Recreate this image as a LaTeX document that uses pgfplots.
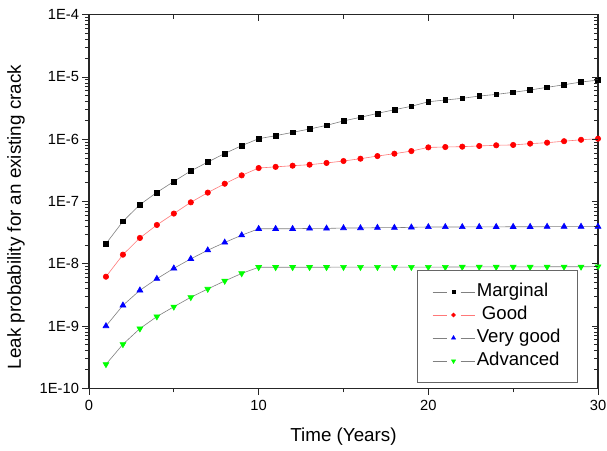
\documentclass[border=0pt]{standalone}
\usepackage{fontspec}
\setmainfont{Liberation Sans}
\usepackage{pgfplots}
\pgfplotsset{compat=1.18}
\definecolor{mgreen}{RGB}{0,255,0}
\definecolor{lgray}{RGB}{128,128,128}
\definecolor{lred}{RGB}{255,120,120}
\begin{document}
\begin{tikzpicture}
\useasboundingbox (-89pt,-61.7pt) rectangle (518pt,388.3pt);
\begin{semilogyaxis}[
  at={(0,0)}, anchor=south west,
  scale only axis, width=509pt, height=373.6pt,
  xmin=0, xmax=30, ymin=1e-10, ymax=1e-4,
  xtick={0,10,20,30}, minor x tick num=1,
  ytick={1e-10,1e-9,1e-8,1e-7,1e-6,1e-5,1e-4},
  major tick length=6.5pt, minor tick length=4pt,
  axis line style={line width=1.1pt, black!85},
  every tick/.style={line width=0.9pt, black!85},
  every minor tick/.style={line width=0.8pt, black!85},
  tick align=outside, xtick pos=bottom, ytick pos=left,
  xticklabels={0,10,20,30},
  yticklabels={1E-10,1E-9,1E-8,1E-7,1E-6,1E-5,1E-4},
  ticklabel style={font=\fontsize{14.7}{17}\selectfont},
  xticklabel style={yshift=-2pt},
  xlabel={Time (Years)},
  ylabel={Leak probability for an existing crack},
  every axis x label/.style={at={(axis description cs:0.5,0)}, yshift=-48.4pt, anchor=center, font=\fontsize{18.8}{22}\selectfont},
  every axis y label/.style={at={(axis description cs:0,0.4585)}, xshift=-73pt, rotate=90, anchor=center, font=\fontsize{18.8}{22}\selectfont},
  legend style={at={(0.9607,0.015)}, anchor=south east, draw=black!60, line width=0.8pt,
    inner xsep=15pt, inner ysep=9.8pt, font=\fontsize{18.6}{22}\selectfont,
    nodes={inner sep=2pt, text height=14pt, text depth=5pt}},
  legend cell align=left,
  legend image code/.code={
      \draw[#1, mark=none] (0pt,0pt) -- (14pt,0pt);
      \draw[#1, mark=none] (28pt,0pt) -- (42pt,0pt);
      \draw[#1, draw=none, every mark/.append style={scale=0.7}] plot coordinates {(21pt,0pt)};
  },
]
\addplot[color=lgray, line width=0.6pt, mark=square*, mark size=2.4pt, mark options={fill=black, draw=black, solid}] coordinates {
(1,2.1e-8) (2,4.8e-8) (3,8.9e-8) (4,1.4e-7) (5,2.1e-7) (6,3.1e-7) (7,4.3e-7) (8,5.9e-7) (9,7.9e-7) (10,1.02e-6)
(11,1.14e-6) (12,1.29e-6) (13,1.46e-6) (14,1.67e-6) (15,1.97e-6) (16,2.25e-6) (17,2.6e-6) (18,2.98e-6) (19,3.38e-6) (20,4.0e-6)
(21,4.27e-6) (22,4.54e-6) (23,4.94e-6) (24,5.25e-6) (25,5.67e-6) (26,6.18e-6) (27,6.82e-6) (28,7.5e-6) (29,8.3e-6) (30,8.9e-6)};
\addlegendentry{Marginal}
\addplot[color=lred, line width=0.6pt, mark=*, mark size=2.7pt, mark options={fill=red, draw=red, solid}] coordinates {
(1,6.2e-9) (2,1.4e-8) (3,2.6e-8) (4,4.2e-8) (5,6.4e-8) (6,9.7e-8) (7,1.39e-7) (8,1.93e-7) (9,2.63e-7) (10,3.45e-7)
(11,3.6e-7) (12,3.76e-7) (13,3.9e-7) (14,4.16e-7) (15,4.47e-7) (16,4.87e-7) (17,5.37e-7) (18,5.86e-7) (19,6.46e-7) (20,7.4e-7)
(21,7.5e-7) (22,7.6e-7) (23,7.8e-7) (24,8.0e-7) (25,8.1e-7) (26,8.5e-7) (27,8.8e-7) (28,9.3e-7) (29,9.8e-7) (30,1.02e-6)};
\addlegendentry{\ Good}
\addplot[color=lgray, line width=0.6pt, mark=triangle*, mark size=3.4pt, mark options={fill=blue, draw=blue, solid}] coordinates {
(1,1.0e-9) (2,2.15e-9) (3,3.75e-9) (4,5.75e-9) (5,8.45e-9) (6,1.2e-8) (7,1.65e-8) (8,2.2e-8) (9,2.88e-8) (10,3.65e-8)
(11,3.65e-8) (12,3.65e-8) (13,3.7e-8) (14,3.7e-8) (15,3.75e-8) (16,3.75e-8) (17,3.8e-8) (18,3.8e-8) (19,3.85e-8) (20,3.9e-8)
(21,3.9e-8) (22,3.9e-8) (23,3.92e-8) (24,3.92e-8) (25,3.93e-8) (26,3.93e-8) (27,3.94e-8) (28,3.95e-8) (29,3.95e-8) (30,3.96e-8)};
\addlegendentry{Very good}
\addplot[color=lgray, line width=0.6pt, mark=triangle*, mark size=3.4pt, mark options={fill=mgreen, draw=mgreen, solid, rotate=180}] coordinates {
(1,2.43e-10) (2,5.1e-10) (3,9.1e-10) (4,1.42e-9) (5,2.04e-9) (6,2.9e-9) (7,3.94e-9) (8,5.3e-9) (9,7.0e-9) (10,8.8e-9)
(11,8.8e-9) (12,8.8e-9) (13,8.8e-9) (14,8.8e-9) (15,8.85e-9) (16,8.85e-9) (17,8.85e-9) (18,8.85e-9) (19,8.85e-9) (20,8.85e-9)
(21,8.85e-9) (22,8.9e-9) (23,8.9e-9) (24,8.9e-9) (25,8.9e-9) (26,8.9e-9) (27,8.95e-9) (28,8.95e-9) (29,8.95e-9) (30,9.0e-9)};
\addlegendentry{Advanced}
\end{semilogyaxis}
\begin{semilogyaxis}[
  at={(0,0)}, anchor=south west,
  scale only axis, width=509pt, height=373.6pt,
  xmin=0, xmax=30, ymin=1e-10, ymax=1e-4,
  xtick={0,10,20,30}, minor x tick num=1,
  ytick={1e-10,1e-9,1e-8,1e-7,1e-6,1e-5,1e-4},
  major tick length=6.5pt, minor tick length=4pt,
  every tick/.style={line width=0.9pt, black!85},
  every minor tick/.style={line width=0.8pt, black!85},
  tick align=inside, xtick pos=top, ytick pos=right,
  xticklabels={}, yticklabels={},
  axis line style={draw=none},
]
\end{semilogyaxis}
\end{tikzpicture}
\end{document}
